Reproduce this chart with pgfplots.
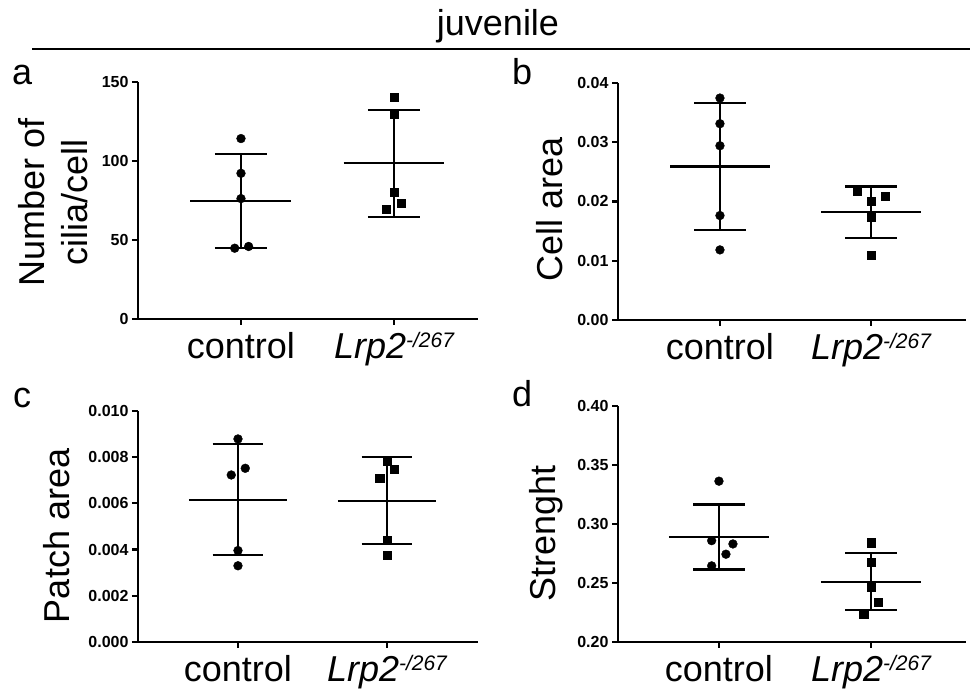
\documentclass[border=0pt]{standalone}
\usepackage{fontspec}
\setmainfont{Liberation Sans}
\usepackage{pgfplots}
\pgfplotsset{compat=1.18}

\newcommand{\lbl}{\fontsize{36}{43}\selectfont}
\newcommand{\tks}{\fontsize{16}{18}\selectfont\bfseries}
\newcommand{\lrp}{\textit{Lrp2}\raisebox{11pt}{\fontsize{21}{21}\selectfont\itshape -/267}}

\pgfplotsset{
  gp/.style={
    scale only axis, clip=false,
    axis lines*=left,
    axis line style={line width=2.2pt, black},
    tick style={line width=2.2pt, black},
    tick align=outside, major tick length=6pt,
    xtick={0,1}, xticklabels={control,\lrp},
    xticklabel style={font=\lbl, yshift=-4pt},
    yticklabel style={font=\tks, /pgf/number format/assume math mode=true},
    scaled y ticks=false,
    ylabel style={font=\lbl, anchor=south, inner sep=0pt, align=center},
  },
  dots/.style={only marks, mark=*, mark size=4.4pt, black},
  sqs/.style={only marks, mark=square*, mark size=4.1pt, black},
  ln/.style={black, line width=2.2pt, mark=none},
}

\begin{document}
\begin{tikzpicture}
\path[use as bounding box] (0,0) rectangle (970pt,690pt);

\node[font=\lbl, anchor=base, inner sep=0pt] at (498pt,654pt) {juvenile};
\draw[line width=2.2pt] (32pt,641pt) -- (970pt,641pt);
\node[font=\lbl, anchor=base west, inner sep=0pt] at (12pt,605pt) {a};
\node[font=\lbl, anchor=base west, inner sep=0pt] at (512pt,605pt) {b};
\node[font=\lbl, anchor=base west, inner sep=0pt] at (13pt,282pt) {c};
\node[font=\lbl, anchor=base west, inner sep=0pt] at (512pt,283pt) {d};

% a
\begin{axis}[gp, at={(138pt,371pt)}, anchor=south west,
  width=340pt, height=237pt,
  xmin=-0.673, xmax=1.549, ymin=0, ymax=150,
  ytick={0,50,100,150},
  ylabel={Number of\\cilia/cell},
  ylabel style={at={(axis description cs:-0.147,0.49)}}]
\addplot[dots] coordinates {(0,114.2) (0,92.2) (0,76.2) (-0.041,44.8) (0.05,45.9)};
\addplot[ln] coordinates {(-0.33,74.7) (0.33,74.7)};
\addplot[ln] coordinates {(0,45.0) (0,104.6)};
\addplot[ln] coordinates {(-0.17,104.6) (0.17,104.6)};
\addplot[ln] coordinates {(-0.17,45.0) (0.17,45.0)};
\addplot[sqs] coordinates {(1,140.5) (1,129.4) (1,80.0) (1.048,73.2) (0.95,69.6)};
\addplot[ln] coordinates {(0.67,98.5) (1.33,98.5)};
\addplot[ln] coordinates {(1,64.8) (1,132.1)};
\addplot[ln] coordinates {(0.83,132.1) (1.17,132.1)};
\addplot[ln] coordinates {(0.83,64.8) (1.17,64.8)};
\end{axis}

% b
\begin{axis}[gp, at={(618pt,370pt)}, anchor=south west,
  width=348pt, height=237pt,
  xmin=-0.675, xmax=1.629, ymin=0, ymax=0.04,
  ytick={0,0.01,0.02,0.03,0.04},
  yticklabel style={/pgf/number format/.cd, fixed, fixed zerofill, precision=2},
  ylabel={Cell area},
  ylabel style={at={(axis description cs:-0.158,0.468)}}]
\addplot[dots] coordinates {(0,0.03746) (0,0.03313) (0,0.02941) (0,0.01763) (0,0.01183)};
\addplot[ln] coordinates {(-0.33,0.02592) (0.33,0.02592)};
\addplot[ln] coordinates {(0,0.01521) (0,0.03668)};
\addplot[ln] coordinates {(-0.17,0.03668) (0.17,0.03668)};
\addplot[ln] coordinates {(-0.17,0.01521) (0.17,0.01521)};
\addplot[sqs] coordinates {(0.907,0.02169) (1.093,0.02085) (1,0.0200) (1,0.01735) (1,0.01099)};
\addplot[ln] coordinates {(0.67,0.0182) (1.33,0.0182)};
\addplot[ln] coordinates {(1,0.0138) (1,0.02254)};
\addplot[ln] coordinates {(0.83,0.02254) (1.17,0.02254)};
\addplot[ln] coordinates {(0.83,0.0138) (1.17,0.0138)};
\end{axis}

% c
\begin{axis}[gp, at={(138pt,48pt)}, anchor=south west,
  width=340pt, height=231pt,
  xmin=-0.671, xmax=1.611, ymin=0, ymax=0.010,
  ytick={0,0.002,0.004,0.006,0.008,0.010},
  yticklabel style={/pgf/number format/.cd, fixed, fixed zerofill, precision=3},
  ylabel={Patch area},
  ylabel style={at={(axis description cs:-0.2,0.459)}}]
\addplot[dots] coordinates {(0,0.00879) (0.049,0.00752) (-0.045,0.00723) (0,0.00396) (0,0.0033)};
\addplot[ln] coordinates {(-0.33,0.00615) (0.33,0.00615)};
\addplot[ln] coordinates {(0,0.00378) (0,0.00856)};
\addplot[ln] coordinates {(-0.17,0.00856) (0.17,0.00856)};
\addplot[ln] coordinates {(-0.17,0.00378) (0.17,0.00378)};
\addplot[sqs] coordinates {(1,0.00785) (1.047,0.00748) (0.951,0.00709) (1,0.0044) (1,0.00375)};
\addplot[ln] coordinates {(0.67,0.00611) (1.33,0.00611)};
\addplot[ln] coordinates {(1,0.00424) (1,0.00801)};
\addplot[ln] coordinates {(0.83,0.00801) (1.17,0.00801)};
\addplot[ln] coordinates {(0.83,0.00424) (1.17,0.00424)};
\end{axis}

% d
\begin{axis}[gp, at={(618pt,48pt)}, anchor=south west,
  width=348pt, height=236pt,
  xmin=-0.664, xmax=1.625, ymin=0.2, ymax=0.4,
  ytick={0.2,0.25,0.3,0.35,0.4},
  yticklabel style={/pgf/number format/.cd, fixed, fixed zerofill, precision=2},
  ylabel={Strenght},
  ylabel style={at={(axis description cs:-0.158,0.458)}}]
\addplot[dots] coordinates {(0,0.3363) (-0.048,0.2859) (0.092,0.2831) (0.046,0.2744) (-0.048,0.2645)};
\addplot[ln] coordinates {(-0.33,0.2893) (0.33,0.2893)};
\addplot[ln] coordinates {(0,0.2614) (0,0.3166)};
\addplot[ln] coordinates {(-0.17,0.3166) (0.17,0.3166)};
\addplot[ln] coordinates {(-0.17,0.2614) (0.17,0.2614)};
\addplot[sqs] coordinates {(1,0.2842) (1,0.2673) (1,0.2462) (1.05,0.2338) (0.952,0.2239)};
\addplot[ln] coordinates {(0.67,0.251) (1.33,0.251)};
\addplot[ln] coordinates {(1,0.2268) (1,0.2752)};
\addplot[ln] coordinates {(0.83,0.2752) (1.17,0.2752)};
\addplot[ln] coordinates {(0.83,0.2268) (1.17,0.2268)};
\end{axis}
\end{tikzpicture}
\end{document}
